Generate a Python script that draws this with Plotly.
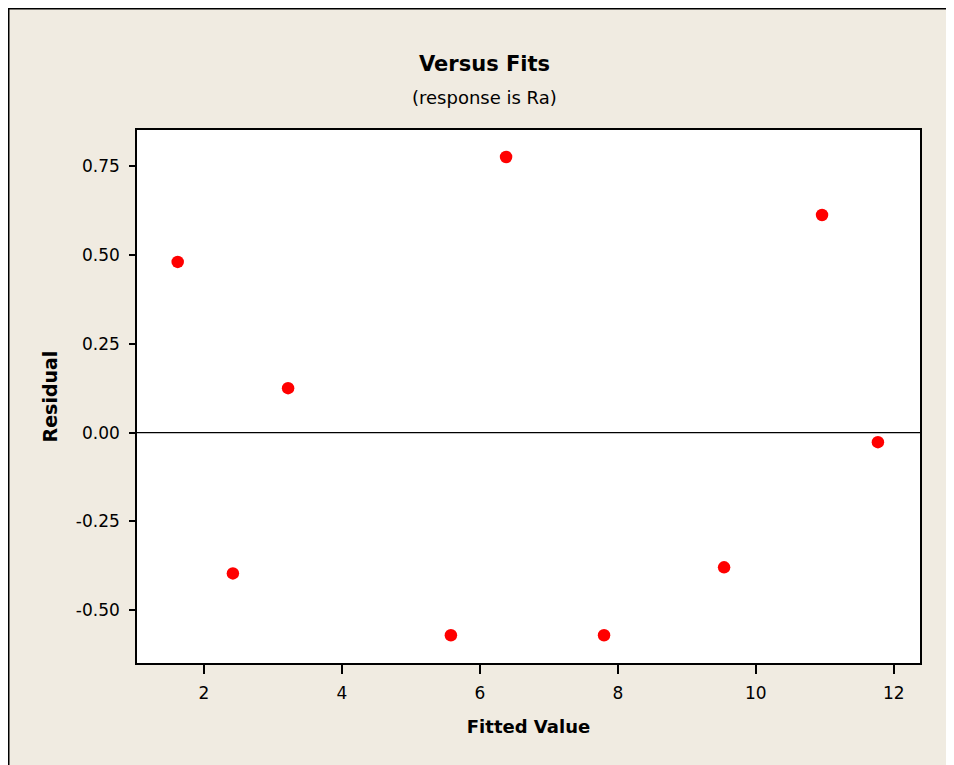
import plotly.graph_objects as go

fitted = [1.62, 2.42, 3.22, 5.58, 6.38, 7.80, 9.54, 10.96, 11.77]
residual = [0.480, -0.396, 0.125, -0.570, 0.775, -0.570, -0.379, 0.612, -0.027]
x_ticks = [2, 4, 6, 8, 10, 12]
y_ticks = [-0.50, -0.25, 0.00, 0.25, 0.50, 0.75]
y_tick_labels = ["-0.50", "-0.25", "0.00", "0.25", "0.50", "0.75"]

# page body has an 8px margin; the figure runs past the right/bottom window edge
W, H = 954, 765
L, R, T, B = 129, 42, 122, 110

FONT = "DejaVu Sans, Verdana, sans-serif"

fig = go.Figure()
fig.add_trace(go.Scatter(
    x=fitted, y=residual, mode="markers",
    marker=dict(color="#FF0000", size=12.5, line=dict(width=0)),
    showlegend=False,
))

fig.add_hline(y=0, line=dict(color="black", width=1.4))

def px_x(p):
    return (p - L) / (W - L - R)

def px_y(p):
    return 1 - (p - T) / (H - T - B)

fig.add_annotation(text="<b>Versus Fits</b>", xref="paper", yref="paper",
                   x=px_x(476), y=px_y(56), xanchor="center", yanchor="middle",
                   showarrow=False, font=dict(family=FONT, size=21, color="black"))
fig.add_annotation(text="(response is Ra)", xref="paper", yref="paper",
                   x=px_x(476), y=px_y(89), xanchor="center", yanchor="middle",
                   showarrow=False, font=dict(family=FONT, size=18, color="black"))

# outer frame: only top and left edges are visible
fig.add_shape(type="line", xref="paper", yref="paper",
              x0=px_x(0), x1=px_x(W), y0=px_y(0), y1=px_y(0),
              line=dict(color="black", width=3))
fig.add_shape(type="line", xref="paper", yref="paper",
              x0=px_x(0), x1=px_x(0), y0=px_y(0), y1=px_y(H),
              line=dict(color="black", width=3))

fig.update_layout(
    width=W, height=H,
    margin=dict(l=L, r=R, t=T, b=B, pad=0),
    paper_bgcolor="#F0EBE1",
    plot_bgcolor="white",
    font=dict(family=FONT, color="black"),
)
fig.update_xaxes(
    range=[1.03, 12.38], tickvals=x_ticks, ticktext=[str(v) for v in x_ticks],
    ticks="outside", ticklen=9, tickwidth=1.5, tickcolor="black",
    showline=True, linecolor="black", linewidth=1.5, mirror=True,
    showgrid=False, zeroline=False, ticklabelstandoff=5,
    tickfont=dict(family=FONT, size=17),
    title=dict(text="<b>Fitted Value</b>", font=dict(family=FONT, size=18), standoff=18),
)
fig.update_yaxes(
    range=[-0.648, 0.851], tickvals=y_ticks, ticktext=y_tick_labels,
    ticks="outside", ticklen=6, tickwidth=1.5, tickcolor="black",
    showline=True, linecolor="black", linewidth=1.5, mirror=True,
    showgrid=False, zeroline=False, ticklabelstandoff=6,
    tickfont=dict(family=FONT, size=17),
    title=dict(text="<b>Residual</b>", font=dict(family=FONT, size=19), standoff=13),
)

fig.write_html("out.html", post_script="document.body.style.overflow='hidden';")
